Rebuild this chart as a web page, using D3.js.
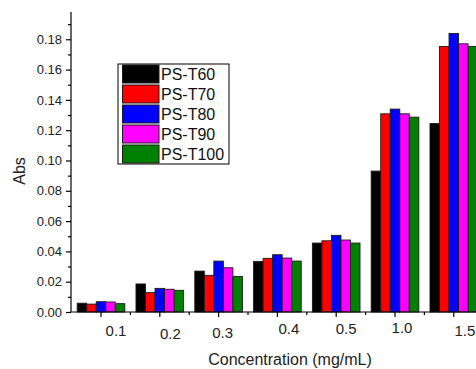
<!DOCTYPE html>
<html>
<head>
<meta charset="utf-8">
<script src="https://cdn.jsdelivr.net/npm/d3@7"></script>
<style>
  html, body { margin: 0; padding: 0; background: #fff; }
  svg { display: block; font-family: "Liberation Sans", Arial, sans-serif; }
</style>
</head>
<body>
<svg id="chart" width="476" height="369"></svg>
<script>
// ---- data ----
const categories = ["0.1", "0.2", "0.3", "0.4", "0.5", "1.0", "1.5"];
const seriesNames = ["PS-T60", "PS-T70", "PS-T80", "PS-T90", "PS-T100"];
const psT60  = [0.0058, 0.0185, 0.0270, 0.0334, 0.0455, 0.0930, 0.1244];
const psT70  = [0.0052, 0.0128, 0.0242, 0.0354, 0.0470, 0.1308, 0.1752];
const psT80  = [0.0068, 0.0156, 0.0336, 0.0378, 0.0506, 0.1339, 0.1838];
const psT90  = [0.0066, 0.0150, 0.0292, 0.0356, 0.0475, 0.1308, 0.1770];
const psT100 = [0.0055, 0.0143, 0.0235, 0.0336, 0.0455, 0.1286, 0.1752];
const seriesValues = [psT60, psT70, psT80, psT90, psT100];
const yTickValues = [0.00, 0.02, 0.04, 0.06, 0.08, 0.10, 0.12, 0.14, 0.16, 0.18];
const yMinorTicks = [0.01, 0.03, 0.05, 0.07, 0.09, 0.11, 0.13, 0.15, 0.17, 0.19];
const colors = ["#000000", "#ff0000", "#0000ff", "#ff00ff", "#008000"];

// ---- layout (hand-placed tick-label nudges, as in the original figure) ----
const labelDx = [15, 10.5, 4, 11.5, 10, 7, 11];
const labelDy = [0, 3, 2, -2, -2, -3, 0];

const svg = d3.select("#chart");
const mLeft = 71, mTop = 12, mBottom = 312;
const step = 58.8;

const x0 = d3.scaleBand().domain(categories)
  .range([71.6, 71.6 + step * categories.length]).padding(0);
const groupW = step * 0.81;
const x1 = d3.scaleBand().domain(seriesNames).range([0, groupW]).padding(0);
const y = d3.scaleLinear().domain([0, 0.198]).range([mBottom, mTop]);

// bars
const groups = svg.append("g").selectAll("g")
  .data(categories)
  .join("g")
  .attr("transform", d => `translate(${x0(d) + (step - groupW) / 2},0)`);

groups.selectAll("rect")
  .data((c, i) => seriesNames.map((s, k) => ({ s, k, v: seriesValues[k][i] })))
  .join("rect")
  .attr("x", d => x1(d.s))
  .attr("y", d => y(d.v))
  .attr("width", x1.bandwidth())
  .attr("height", d => y(0) - y(d.v))
  .attr("fill", d => colors[d.k])
  .attr("stroke", "#1a1a1a")
  .attr("stroke-width", 0.9);

// y axis
const yAxis = d3.axisLeft(y).tickValues(yTickValues)
  .tickFormat(d3.format(".2f")).tickSize(5).tickPadding(4);
const gy = svg.append("g").attr("transform", `translate(${mLeft},0)`).call(yAxis);
gy.select(".domain").attr("d", `M0,${mTop}V${mBottom}`).attr("stroke", "#000").attr("stroke-width", 1.2);
gy.selectAll(".tick line").attr("stroke", "#000").attr("stroke-width", 1.2);
gy.selectAll(".tick text").attr("font-size", 13).attr("fill", "#222")
  .attr("font-family", "Liberation Sans, Arial, sans-serif");
const yMinor = d3.axisLeft(y).tickValues(yMinorTicks).tickSize(3).tickFormat("");
const gym = svg.append("g").attr("transform", `translate(${mLeft},0)`).call(yMinor);
gym.select(".domain").remove();
gym.selectAll(".tick line").attr("stroke", "#000").attr("stroke-width", 1.2);

// x axis
const xAxis = d3.axisBottom(x0).tickSize(5).tickPadding(8);
const gx = svg.append("g").attr("transform", `translate(0,${mBottom})`).call(xAxis);
gx.select(".domain").attr("d", `M${mLeft},0H476`).attr("stroke", "#000").attr("stroke-width", 1.2);
gx.selectAll(".tick line").attr("stroke", "#000").attr("stroke-width", 1.2);
gx.selectAll(".tick text").attr("font-size", 15).attr("fill", "#222")
  .attr("font-family", "Liberation Sans, Arial, sans-serif")
  .attr("transform", (d, i) => `translate(${labelDx[i]},${labelDy[i]})`);
// minor x ticks between groups
const xMinorScale = d3.scaleLinear().domain([0, categories.length]).range(x0.range());
svg.append("g").selectAll("line")
  .data(d3.range(1, categories.length))
  .join("line")
  .attr("x1", d => xMinorScale(d)).attr("x2", d => xMinorScale(d))
  .attr("y1", mBottom).attr("y2", mBottom + 3)
  .attr("stroke", "#000").attr("stroke-width", 1.2);

// axis titles
svg.append("text")
  .attr("x", 290).attr("y", 365)
  .attr("text-anchor", "middle").attr("font-size", 16).attr("fill", "#222")
  .text("Concentration (mg/mL)");
svg.append("text")
  .attr("transform", "translate(25,171) rotate(-90)")
  .attr("text-anchor", "middle").attr("font-size", 16).attr("fill", "#222")
  .text("Abs");

// legend
const lg = svg.append("g").attr("transform", "translate(118,64)");
lg.append("rect").attr("x", 0).attr("y", 0).attr("width", 111).attr("height", 100)
  .attr("fill", "#fff").attr("stroke", "#000").attr("stroke-width", 1);
const rows = lg.selectAll("g.row").data(seriesNames).join("g")
  .attr("transform", (d, i) => `translate(0,${i * 20})`);
rows.append("rect").attr("x", 4.5).attr("y", 1).attr("width", 36.5).attr("height", 18)
  .attr("fill", (d, i) => colors[i]).attr("stroke", "#1a1a1a").attr("stroke-width", 1);
rows.append("text").attr("x", 43).attr("y", 16)
  .attr("font-size", 16).attr("fill", "#111").text(d => d);
</script>
</body>
</html>
